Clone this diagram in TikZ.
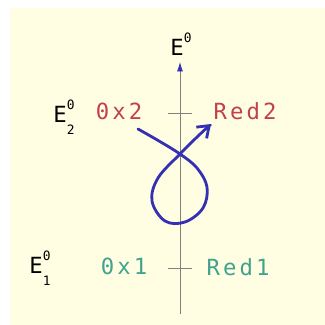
\documentclass[tikz,border=0pt]{standalone}
\usepackage{fontspec}
\setmainfont{DejaVu Sans Mono}[LetterSpace=14]
\usetikzlibrary{arrows.meta}
\definecolor{paper}{HTML}{FFFDE2}
\definecolor{redlev}{HTML}{C0404E}
\definecolor{tealev}{HTML}{3FA38E}
\definecolor{loopblue}{HTML}{3430B4}
\newcommand{\lev}[2]{E\rlap{\raisebox{1.1ex}{\fontsize{11}{11}\selectfont #2}}\raisebox{-1.0ex}{\fontsize{11}{11}\selectfont #1}}
\tikzset{
  lbl/.style={inner sep=0pt, font=\fontsize{19}{19}\selectfont},
  tick/.style={draw=gray, line width=0.6pt},
}
\begin{document}
\begin{tikzpicture}[x=0.03cm,y=-0.03cm]
			% background
			\useasboundingbox (0,0) rectangle (325,325);
			\fill[paper] (10,8) rectangle (325,325);
			% axis
			\coordinate (bot) at (180,314);
			\coordinate (top) at (180,62);
			\draw[gray, line width=0.6pt, -{Latex[color=loopblue,length=8pt,width=5pt]}] (bot) -- (top);
			\node[lbl] (e0) at (181,44) {E\raisebox{1.1ex}{\fontsize{11}{11}\selectfont 0}};
			% ticks
			\coordinate (t2) at (180,113);
			\coordinate (t1) at (180,268);
			\draw[tick] ([xshift=-10] t2) -- ([xshift=10] t2);
			\draw[tick] ([xshift=-10] t1) -- ([xshift=10] t1);
			% labels
			\node[lbl] (e2) at (64,117) {\lev{2}{0}};
			\node[lbl] (e1) at (40,268) {\lev{1}{0}};
			\node[lbl, text=redlev] (ox2) at (119,111) {0x2};
			\node[lbl, text=redlev] (red2) at (245,111) {Red2};
			\node[lbl, text=tealev] (ox1) at (124,266) {0x1};
			\node[lbl, text=tealev] (red1) at (238,267) {Red1};
			% loop
			\draw[loopblue, line width=2.4pt, line cap=round, -{Straight Barb[length=9pt,width=13pt]}]
				plot[smooth, tension=0.6] coordinates {(138,129) (159,141) (180,154) (197,168) (207,187) (203,208) (185,222) (165,221) (152,201) (158,178) (180,154) (196,138) (211,124)};
		\end{tikzpicture}
\end{document}
